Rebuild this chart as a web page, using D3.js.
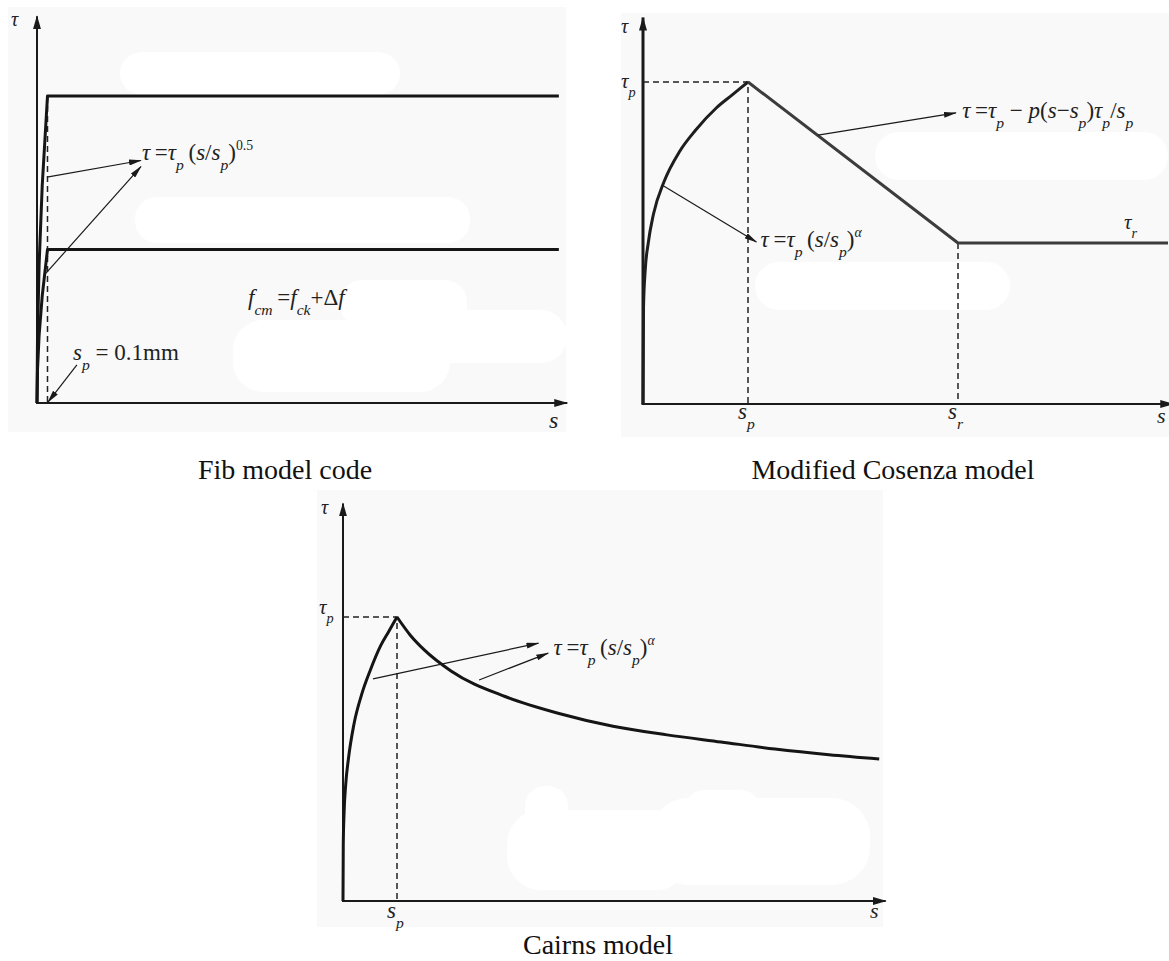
<!DOCTYPE html>
<html>
<head>
<meta charset="utf-8">
<script src="https://cdn.jsdelivr.net/npm/d3@7"></script>
<style>
  body { margin: 0; background: #fff; }
  svg { display: block; font-family: "Liberation Serif", "Times New Roman", serif; }
</style>
</head>
<body>
<svg id="chart"></svg>
<script>
// ---- data ----
// Fib model code: s in mm, tau in arbitrary units
const fibS = [0, 0.005, 0.02, 0.05, 0.1, 4.97];
const fibUpperTau = [0, 2.2, 4.5, 7.1, 10, 10];
const fibLowerTau = [0, 1.1, 2.2, 3.5, 5, 5];
const fibSp = 0.1;

// Modified Cosenza: s/sp, tau/tau_p
const cosRiseS = [0, 0.005, 0.02, 0.05, 0.1, 0.2, 0.35, 0.5, 0.7, 0.85, 1];
const cosRiseTau = [0, 0.3, 0.41, 0.5, 0.59, 0.69, 0.785, 0.85, 0.92, 0.96, 1];
const cosFallS = [1, 3, 5];
const cosFallTau = [1, 0.5, 0.5];
const cosSr = 3;
const cosTauR = 0.5;

// Cairns: s/sp, tau/tau_p
const cairnsRiseS = [0, 0.005, 0.02, 0.05, 0.1, 0.2, 0.35, 0.5, 0.7, 0.85, 1];
const cairnsRiseTau = [0, 0.2, 0.31, 0.41, 0.5, 0.62, 0.73, 0.81, 0.9, 0.95, 1];
const cairnsFallS = [1, 1.25, 1.5, 2, 3, 4, 5, 6, 7, 8, 9, 9.93];
const cairnsFallTau = [1, 0.935, 0.885, 0.81, 0.72, 0.66, 0.615, 0.585, 0.56, 0.535, 0.515, 0.5];

const captions = ["Fib model code", "Modified Cosenza model", "Cairns model"];

const width = 1169, height = 961;
const svg = d3.select("#chart").attr("width", width).attr("height", height)
  .attr("viewBox", [0, 0, width, height]);

const defs = svg.append("defs");
defs.append("marker").attr("id", "axisHead")
  .attr("viewBox", "0 0 14 8").attr("refX", 13).attr("refY", 4)
  .attr("markerWidth", 14).attr("markerHeight", 8)
  .attr("markerUnits", "userSpaceOnUse").attr("orient", "auto")
  .append("path").attr("d", "M0,0 L14,4 L0,8 z").attr("fill", "#1a1a1a");
defs.append("marker").attr("id", "noteHead")
  .attr("viewBox", "0 0 13 6").attr("refX", 12).attr("refY", 3)
  .attr("markerWidth", 13).attr("markerHeight", 6)
  .attr("markerUnits", "userSpaceOnUse").attr("orient", "auto")
  .append("path").attr("d", "M0,0 L13,3 L0,6 z").attr("fill", "#1a1a1a");

const zip = (a, b) => a.map((v, i) => [v, b[i]]);

// text with italic / sub / sup pieces
function mathText(g, x, y, parts, size) {
  const t = g.append("text").attr("x", x).attr("y", y)
    .style("font-size", size + "px").attr("fill", "#222");
  let shift = 0;
  parts.forEach(([str, kind]) => {
    let target = 0, fs = size, italic = kind !== "n" && kind !== "sup";
    if (kind === "sub") { target = size * 0.42; fs = size * 0.68; }
    if (kind === "sup" || kind === "supi") { target = -size * 0.45; fs = size * 0.6; }
    t.append("tspan").attr("dy", target - shift)
      .style("font-size", fs + "px")
      .style("font-style", italic ? "italic" : "normal")
      .text(str);
    shift = target;
  });
  return t;
}

function background(box, blobs) {
  const g = svg.append("g");
  g.append("rect").attr("x", box[0]).attr("y", box[1])
    .attr("width", box[2] - box[0]).attr("height", box[3] - box[1])
    .attr("fill", "#f9f9f9");
  g.selectAll(".blob").data(blobs).join("rect")
    .attr("x", d => d[0]).attr("y", d => d[1])
    .attr("width", d => d[2] - d[0]).attr("height", d => d[3] - d[1])
    .attr("rx", d => d[4]).attr("fill", "#fff");
}

function axes(g, x, y, xMax, yMax, widths) {
  g.append("line").attr("x1", x(0)).attr("y1", y(0)).attr("x2", x(0)).attr("y2", y(yMax))
    .attr("stroke", "#1a1a1a").attr("stroke-width", widths[0]).attr("marker-end", "url(#axisHead)");
  g.append("line").attr("x1", x(0) - widths[0] / 2).attr("y1", y(0)).attr("x2", x(xMax)).attr("y2", y(0))
    .attr("stroke", "#1a1a1a").attr("stroke-width", widths[1]).attr("marker-end", "url(#axisHead)");
}

function dashed(g, pts) {
  g.append("path").attr("d", d3.line()(pts)).attr("fill", "none")
    .attr("stroke", "#222").attr("stroke-width", 1.5).attr("stroke-dasharray", "6,4");
}

function curve(g, pts, color, w, smooth) {
  const line = d3.line().x(d => d[0]).y(d => d[1]);
  if (smooth) line.curve(d3.curveMonotoneX);
  g.append("path").attr("d", line(pts)).attr("fill", "none")
    .attr("stroke", color).attr("stroke-width", w).attr("stroke-linejoin", "round");
}

function note(g, x, y, a) {
  g.append("line").attr("x1", x(a[0])).attr("y1", y(a[1])).attr("x2", x(a[2])).attr("y2", y(a[3]))
    .attr("stroke", "#1a1a1a").attr("stroke-width", 1.2).attr("marker-end", "url(#noteHead)");
}

const powLaw = [["τ", "i"], ["\u2009=", "n"], ["τ", "i"], ["p", "sub"], ["\u2009(", "n"], ["s", "i"], ["/", "n"],
  ["s", "i"], ["p", "sub"], [")", "n"]];

// ---------- Panel 1: Fib model code ----------
const panelBoxes = [[8, 7, 566, 432], [621, 13, 1169, 437], [317, 490, 883, 927]];
background(panelBoxes[0], [
  [120, 52, 400, 95, 22], [135, 197, 470, 243, 22],
  [340, 280, 467, 327, 22], [380, 310, 567, 363, 26], [233, 320, 450, 392, 30]
]);
{
  const g = svg.append("g");
  const x = d3.scaleLinear().domain([0, 5]).range([37, 562]);
  const y = d3.scaleLinear().domain([0, 10]).range([403, 96]);
  axes(g, x, y, 5.05, 12.6, [2, 2]);
  dashed(g, [[x(fibSp), y(10)], [x(fibSp), y(0)]]);
  curve(g, zip(fibS, fibUpperTau).map(d => [x(d[0]), y(d[1])]), "#151515", 3, false);
  curve(g, zip(fibS, fibLowerTau).map(d => [x(d[0]), y(d[1])]), "#151515", 3, false);
  note(g, x, y, [0.095, 7.36, 0.99, 7.9]);
  note(g, x, y, [0.086, 4.23, 0.99, 7.7]);
  note(g, x, y, [0.38, 1.24, 0.105, 0.03]);
  mathText(g, x(1.0), y(7.92), powLaw.concat([["0.5", "sup"]]), 23);
  mathText(g, x(2.01), y(3.19), [["f", "i"], ["cm", "sub"], ["\u2009=", "n"], ["f", "i"], ["ck", "sub"], ["+Δ", "n"], ["f", "i"]], 23);
  mathText(g, x(0.343), y(1.4), [["s", "i"], ["p", "sub"], [" = 0.1mm", "n"]], 23);
  mathText(g, 11, 26, [["τ", "i"]], 20);
  mathText(g, 549, 428, [["s", "i"]], 24);
}

// ---------- Panel 2: Modified Cosenza ----------
background(panelBoxes[1], [
  [875, 132, 1168, 180, 24], [755, 262, 1010, 310, 24]
]);
{
  const g = svg.append("g");
  const x = d3.scaleLinear().domain([0, 5]).range([643, 1168]);
  const y = d3.scaleLinear().domain([0, 1]).range([404, 82]);
  axes(g, x, y, 5.05, 1.2, [3, 2]);
  dashed(g, [[x(0), y(1)], [x(1), y(1)], [x(1), y(0)]]);
  dashed(g, [[x(cosSr), y(cosTauR)], [x(cosSr), y(0)]]);
  curve(g, zip(cosRiseS, cosRiseTau).map(d => [x(d[0]), y(d[1])]), "#1e1e1e", 3, true);
  curve(g, zip(cosFallS, cosFallTau).map(d => [x(d[0]), y(d[1])]), "#3c3c3c", 3, false);
  note(g, x, y, [1.667, 0.835, 2.98, 0.904]);
  note(g, x, y, [0.181, 0.68, 1.08, 0.503]);
  mathText(g, x(3.04), y(0.888), [["τ", "i"], ["\u2009=", "n"], ["τ", "i"], ["p", "sub"], [" − ", "n"], ["p", "i"],
    ["(", "n"], ["s", "i"], ["−", "n"], ["s", "i"], ["p", "sub"], [")", "n"], ["τ", "i"], ["p", "sub"],
    ["/", "n"], ["s", "i"], ["p", "sub"]], 23);
  mathText(g, x(1.12), y(0.488), powLaw.concat([["α", "supi"]]), 23);
  mathText(g, 1124, 229, [["τ", "i"], ["r", "sub"]], 21);
  mathText(g, 621, 33, [["τ", "i"]], 20);
  mathText(g, 621, 88, [["τ", "i"], ["p", "sub"]], 21);
  mathText(g, x(1) - 10, 419, [["s", "i"], ["p", "sub"]], 23);
  mathText(g, x(cosSr) - 10, 419, [["s", "i"], ["r", "sub"]], 23);
  mathText(g, 1157, 423, [["s", "i"]], 22);
}

// ---------- Panel 3: Cairns ----------
background(panelBoxes[2], [
  [507, 810, 690, 890, 34], [525, 786, 568, 835, 20], [650, 798, 870, 885, 38], [685, 790, 760, 825, 20]
]);
{
  const g = svg.append("g");
  const x = d3.scaleLinear().domain([0, 10]).range([343, 883]);
  const y = d3.scaleLinear().domain([0, 1]).range([901, 617]);
  axes(g, x, y, 10.05, 1.4, [2, 2]);
  dashed(g, [[x(0), y(1)], [x(1), y(1)], [x(1), y(0)]]);
  curve(g, zip(cairnsRiseS, cairnsRiseTau).map(d => [x(d[0]), y(d[1])]), "#151515", 3, true);
  curve(g, zip(cairnsFallS, cairnsFallTau).map(d => [x(d[0]), y(d[1])]), "#151515", 3, true);
  note(g, x, y, [0.556, 0.782, 3.62, 0.908]);
  note(g, x, y, [2.52, 0.778, 3.8, 0.873]);
  mathText(g, x(3.9), y(0.866), powLaw.concat([["α", "supi"]]), 23);
  mathText(g, 321, 514, [["τ", "i"]], 20);
  mathText(g, 319, 614, [["τ", "i"], ["p", "sub"]], 21);
  mathText(g, x(1) - 10, 918, [["s", "i"], ["p", "sub"]], 23);
  mathText(g, 870, 918, [["s", "i"]], 22);
}

// ---------- captions, centred under each panel ----------
const capBaseline = [479, 479, 954];
svg.selectAll(".caption").data(captions).join("text")
  .attr("x", (d, i) => (panelBoxes[i][0] + panelBoxes[i][2]) / 2 - 2)
  .attr("y", (d, i) => capBaseline[i])
  .attr("text-anchor", "middle").style("font-size", "28px").attr("fill", "#111")
  .text(d => d);
</script>
</body>
</html>
